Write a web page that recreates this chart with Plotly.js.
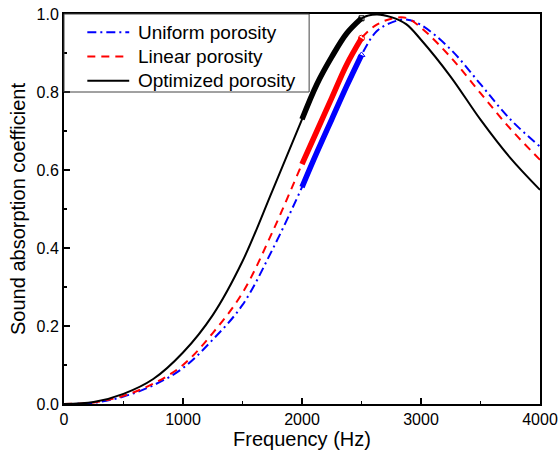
<!DOCTYPE html>
<html>
<head>
<meta charset="utf-8">
<script src="https://cdn.plot.ly/plotly-3.0.1.min.js"></script>
<style>html,body{margin:0;padding:0;background:#fff;}#chart{width:558px;height:457px;}</style>
</head>
<body>
<div id="chart"></div>
<script>
// Frequency (Hz)
var freq = [0, 250, 500, 750, 1000, 1250, 1500, 1750, 2000, 2125, 2250, 2375, 2500, 2625, 2750, 2875, 3000, 3250, 3500, 3750, 4000];
// Sound absorption coefficient
var uniform   = [0, 0.003, 0.019, 0.048, 0.092, 0.165, 0.254, 0.395, 0.556, 0.645, 0.730, 0.815, 0.895, 0.955, 0.978, 0.986, 0.972, 0.909, 0.820, 0.730, 0.660];
var linear    = [0, 0.004, 0.021, 0.052, 0.100, 0.182, 0.285, 0.440, 0.615, 0.700, 0.785, 0.870, 0.938, 0.972, 0.988, 0.990, 0.965, 0.889, 0.797, 0.706, 0.626];
var optimized = [0, 0.005, 0.026, 0.064, 0.132, 0.228, 0.366, 0.546, 0.730, 0.820, 0.890, 0.950, 0.989, 0.999, 0.992, 0.974, 0.934, 0.839, 0.729, 0.631, 0.549];
var seriesNames = ["Uniform porosity", "Linear porosity", "Optimized porosity"];
var bandStart = 2000, bandEnd = 2500;

function band(ys) {
  var bx = [], by = [];
  for (var i = 0; i < freq.length; i++) {
    if (freq[i] >= bandStart && freq[i] <= bandEnd) { bx.push(freq[i]); by.push(ys[i]); }
  }
  return {x: bx, y: by};
}
var bu = band(uniform), bl = band(linear), bo = band(optimized);

var FONT = "Liberation Sans, Arial, sans-serif";
var traces = [
  {x: freq, y: uniform, mode: "lines", name: seriesNames[0], line: {color: "#0000ff", width: 2, dash: "9px,4px,2px,4px", shape: "spline", smoothing: 1}},
  {x: freq, y: linear, mode: "lines", name: seriesNames[1], line: {color: "#ff0000", width: 2, dash: "8px,6px", shape: "spline", smoothing: 1}},
  {x: freq, y: optimized, mode: "lines", name: seriesNames[2], line: {color: "#000000", width: 2, shape: "spline", smoothing: 1}},
  {x: bu.x, y: bu.y, mode: "lines", line: {color: "#0000ff", width: 5.5, shape: "spline", smoothing: 1}, showlegend: false},
  {x: bl.x, y: bl.y, mode: "lines", line: {color: "#ff0000", width: 5.5, shape: "spline", smoothing: 1}, showlegend: false},
  {x: bo.x, y: bo.y, mode: "lines", line: {color: "#000000", width: 5.5, shape: "spline", smoothing: 1}, showlegend: false},
  {x: [bu.x[bu.x.length-1]], y: [bu.y[bu.y.length-1]], mode: "markers", marker: {symbol: "triangle-up-open", size: 6, color: "#0000ff"}, showlegend: false},
  {x: [bl.x[bl.x.length-1]], y: [bl.y[bl.y.length-1]], mode: "markers", marker: {symbol: "circle-open", size: 6, color: "#ff0000"}, showlegend: false},
  {x: [bo.x[bo.x.length-1]], y: [bo.y[bo.y.length-1]], mode: "markers", marker: {symbol: "square-open", size: 5, color: "#000000"}, showlegend: false}
];

// custom legend (paper coordinates)
var legX0 = 0.049, legX1 = 0.137, legTextX = 0.152;
var legY = [0.953, 0.891, 0.829];
var legColors = ["#0000ff", "#ff0000", "#000000"];
var legDash = ["9px,4px,2px,4px", "8px,6px", "solid"];
var shapes = [
  {type: "rect", xref: "paper", yref: "paper", x0: 0, x1: 0.515, y0: 0.8, y1: 1, line: {color: "#444", width: 1}, fillcolor: "rgba(0,0,0,0)"}
];
var annotations = [];
for (var k = 0; k < 3; k++) {
  shapes.push({type: "line", xref: "paper", yref: "paper", x0: legX0, x1: legX1, y0: legY[k], y1: legY[k], line: {color: legColors[k], width: 2, dash: legDash[k]}});
  annotations.push({xref: "paper", yref: "paper", x: legTextX, y: legY[k], xanchor: "left", yanchor: "middle", text: seriesNames[k], showarrow: false, font: {family: FONT, size: 19, color: "#000"}});
}

var layout = {
  width: 558, height: 457,
  margin: {l: 64, r: 18, t: 14, b: 53},
  paper_bgcolor: "#fff", plot_bgcolor: "#fff",
  showlegend: false,
  font: {family: FONT, color: "#000"},
  xaxis: {
    range: [0, 4000], dtick: 1000, tick0: 0,
    showgrid: false, zeroline: false,
    showline: true, linecolor: "#000", linewidth: 2, mirror: true,
    ticks: "inside", ticklen: 6, tickwidth: 1.5, tickcolor: "#000",
    minor: {ticks: "inside", ticklen: 3, dtick: 500, tickcolor: "#000", tickwidth: 1.5, showgrid: false},
    tickfont: {family: FONT, size: 16, color: "#000"},
    title: {text: "Frequency (Hz)", font: {family: FONT, size: 20, color: "#000"}, standoff: 4}
  },
  yaxis: {
    range: [0, 1], dtick: 0.2, tick0: 0, tickformat: ".1f",
    showgrid: false, zeroline: false,
    showline: true, linecolor: "#000", linewidth: 2, mirror: true,
    ticks: "inside", ticklen: 6, tickwidth: 1.5, tickcolor: "#000",
    minor: {ticks: "inside", ticklen: 3, dtick: 0.1, tickcolor: "#000", tickwidth: 1.5, showgrid: false},
    tickfont: {family: FONT, size: 16, color: "#000"},
    title: {text: "Sound absorption coefficient", font: {family: FONT, size: 20, color: "#000"}, standoff: 6}
  },
  shapes: shapes,
  annotations: annotations
};

Plotly.newPlot("chart", traces, layout, {displayModeBar: false, staticPlot: true});
</script>
</body>
</html>
